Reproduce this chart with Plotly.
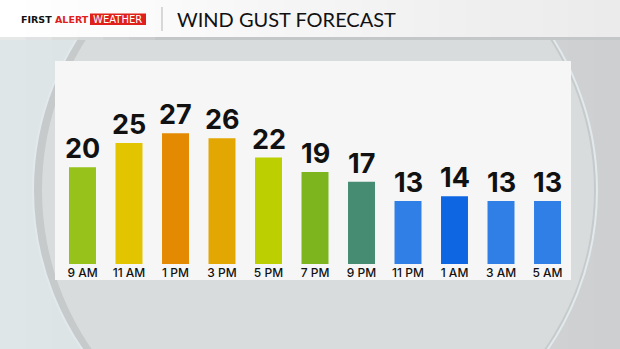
import plotly.graph_objects as go

# ---- data ----
times = ["9 AM", "11 AM", "1 PM", "3 PM", "5 PM", "7 PM", "9 PM", "11 PM", "1 AM", "3 AM", "5 AM"]
gusts = [20, 25, 27, 26, 22, 19, 17, 13, 14, 13, 13]
bar_colors = ["#97c21b", "#e2c400", "#e48a02", "#e3a703", "#bccf00", "#7db51f",
              "#468c72", "#2f7fe6", "#0f66e2", "#2f7fe6", "#2f7fe6"]
title_text = "WIND GUST FORECAST"

W, H = 620, 349


def px(x):
    return x / W


def py(y):
    return 1 - y / H


def mix(c1, c2, t):
    a = [int(c1[i:i + 2], 16) for i in (1, 3, 5)]
    b = [int(c2[i:i + 2], 16) for i in (1, 3, 5)]
    return "#" + "".join("%02x" % round(a[k] + (b[k] - a[k]) * t) for k in range(3))


fig = go.Figure()
fig.add_trace(go.Bar(
    x=times, y=gusts,
    marker=dict(color=bar_colors, line=dict(width=0)),
    hoverinfo="skip",
))

shapes = []
# background horizontal gradient
n = 24
for i in range(n):
    shapes.append(dict(type="rect", xref="paper", yref="paper", layer="below",
                       x0=i / n, x1=(i + 1) / n + 0.002, y0=0, y1=1,
                       fillcolor=mix("#dfe6e8", "#cdcfd0", i / (n - 1)), line=dict(width=0)))
# background circle with soft left shadow and light right rim
cx, cy, r = 315, 190, 282
shapes.append(dict(type="circle", xref="paper", yref="paper", layer="below",
                   x0=px(cx - r), x1=px(cx + r), y0=py(cy + r), y1=py(cy - r),
                   fillcolor="#c6cacb", line=dict(color="#e1e9ec", width=2)))
shapes.append(dict(type="circle", xref="paper", yref="paper", layer="below",
                   x0=px(cx - r + 9), x1=px(cx + r - 3), y0=py(cy + r - 4), y1=py(cy - r + 4),
                   fillcolor="#d9dcdd", line=dict(width=0)))
# panel
shapes.append(dict(type="rect", xref="paper", yref="paper", layer="below",
                   x0=px(55), x1=px(571), y0=py(280), y1=py(61),
                   fillcolor="#f6f6f6", line=dict(width=0)))
# header gradient
for i in range(n):
    shapes.append(dict(type="rect", xref="paper", yref="paper", layer="below",
                       x0=i / n, x1=(i + 1) / n + 0.002, y0=py(37), y1=1,
                       fillcolor=mix("#ffffff", "#ebebeb", i / (n - 1)), line=dict(width=0)))
    shapes.append(dict(type="rect", xref="paper", yref="paper", layer="below",
                       x0=i / n, x1=(i + 1) / n + 0.002, y0=py(40), y1=py(37),
                       fillcolor=mix("#e6e8e8", "#c4c7c8", min(1, i / 6)), line=dict(width=0)))
# red weather box
shapes.append(dict(type="rect", xref="paper", yref="paper", layer="below",
                   x0=px(90), x1=px(146), y0=py(25), y1=py(13.5),
                   fillcolor="#e0201b", line=dict(width=0)))
# separator
shapes.append(dict(type="line", xref="paper", yref="paper", layer="below",
                   x0=px(162), x1=px(162), y0=py(31), y1=py(7),
                   line=dict(color="#b5b5b5", width=1)))

annotations = [
    dict(xref="paper", yref="paper", x=px(19), y=py(19.5), xanchor="left", yanchor="middle",
         text="<b>FIRST <span style='color:#e0201b'>ALERT</span></b>", showarrow=False,
         font=dict(family="DejaVu Sans", size=9.5, color="#111111")),
    dict(xref="paper", yref="paper", x=px(118), y=py(19.5), xanchor="center", yanchor="middle",
         text="WEATHER", showarrow=False,
         font=dict(family="DejaVu Sans", size=10, color="#ffffff")),
    dict(xref="paper", yref="paper", x=px(175), y=py(19), xanchor="left", yanchor="middle",
         text=title_text, showarrow=False,
         font=dict(family="Lato", size=20, color="#111111")),
]
for t, v in zip(times, gusts):
    annotations.append(dict(x=t, y=v, xref="x", yref="y", text=str(v), showarrow=False,
                            yanchor="bottom", xanchor="center", yshift=0,
                            font=dict(family="Inter", size=27, weight=700, color="#111111")))

fig.update_layout(
    width=W, height=H,
    margin=dict(l=0, r=0, t=0, b=0),
    paper_bgcolor="#d9dfe0",
    plot_bgcolor="rgba(0,0,0,0)",
    showlegend=False,
    bargap=0.42,
    shapes=shapes,
    annotations=annotations,
    xaxis=dict(domain=[px(59.25), px(570.75)], range=[-0.5, 10.5],
               showgrid=False, zeroline=False, showline=False, ticks="",
               tickfont=dict(family="Inter", size=12, weight=500, color="#111111"),
               fixedrange=True),
    yaxis=dict(domain=[py(264), py(264 - 4.84 * 30)], range=[0, 30],
               showgrid=False, zeroline=False, showline=False, showticklabels=False,
               fixedrange=True),
)

fig.write_html("out.html")
